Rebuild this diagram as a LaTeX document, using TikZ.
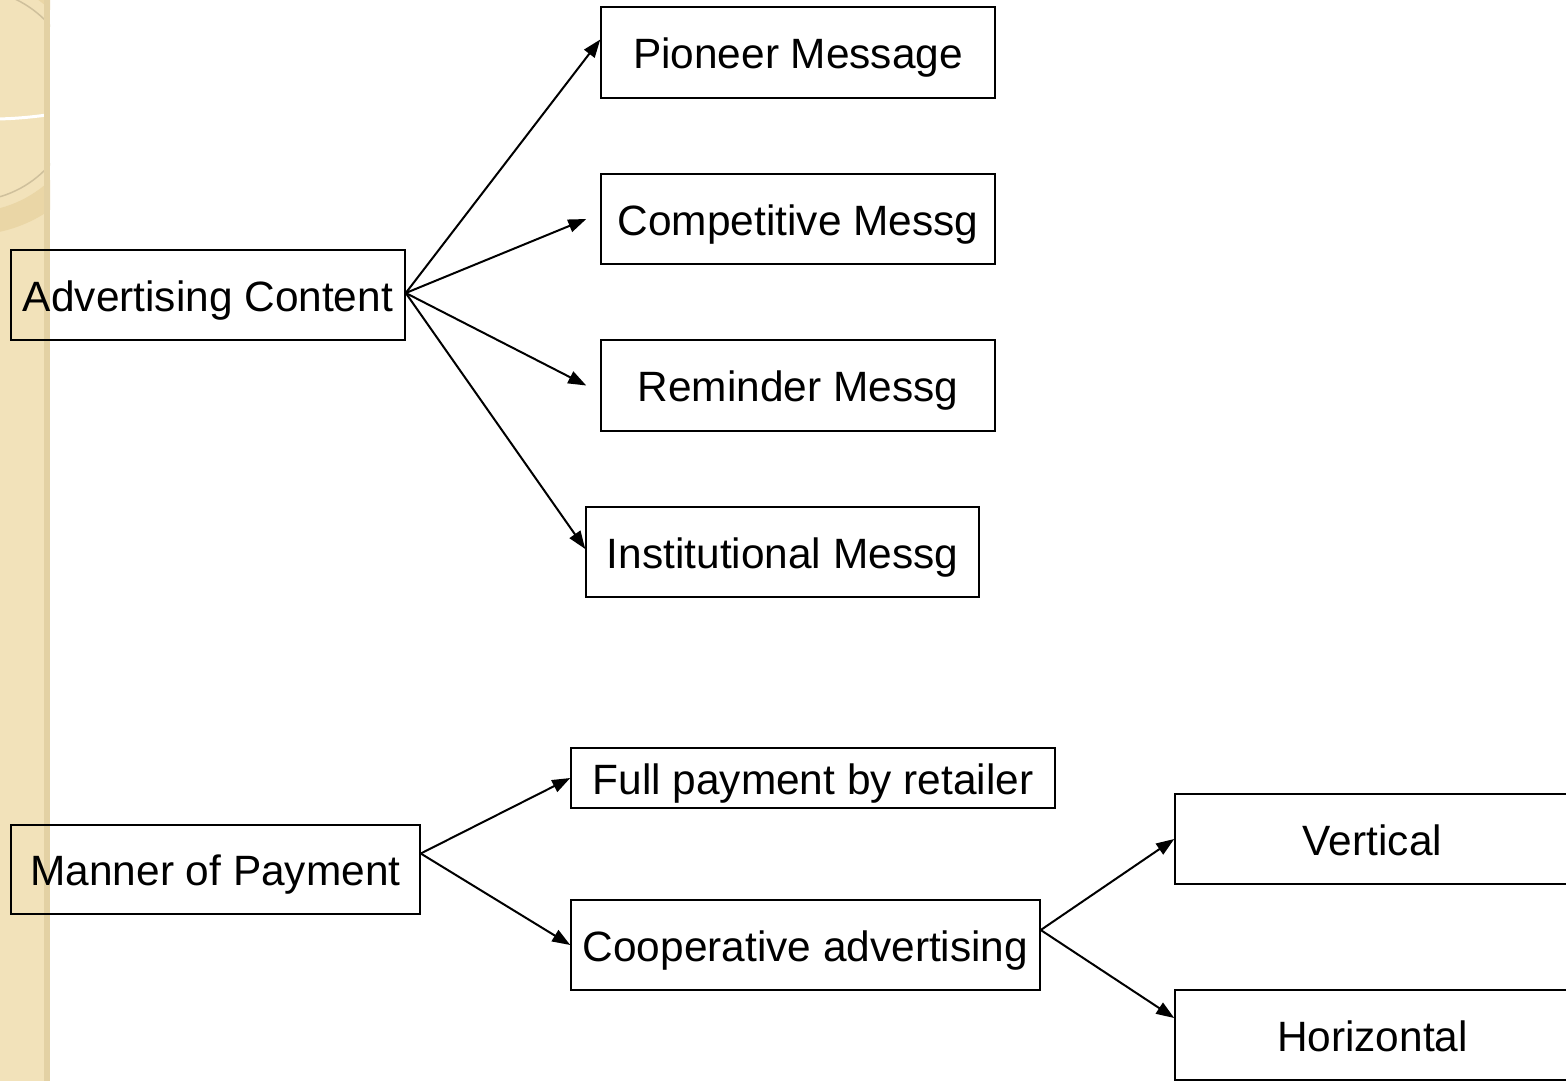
\documentclass[tikz,border=0pt]{standalone}
\usepackage{fontspec}
\setmainfont{Liberation Sans}
\usetikzlibrary{arrows.meta}
\definecolor{strip}{HTML}{F2E2BA}
\definecolor{stripdark}{HTML}{E3D1A4}
\definecolor{band}{HTML}{EAD6A6}
\definecolor{arcgrey}{HTML}{CFC09C}
\tikzset{
  box/.style={draw=black, line width=1.5pt, inner sep=0pt, align=center,
    text height=36pt, text depth=4pt,
    font=\fontsize{42.4}{50}\selectfont},
  conn/.style={draw=black, line width=2pt, -{Triangle[length=18pt,width=13pt]}}
}
\begin{document}
\begin{tikzpicture}[x=1pt,y=-1pt]
\useasboundingbox (0,0) rectangle (1566,1081);
\fill[white] (0,0) rectangle (1566,1081);
% left decorative strip
\fill[strip] (0,0) rectangle (50,1081);
\begin{scope}
\clip (0,0) rectangle (50,1081);
\fill[band, even odd rule] (-30,95) circle[radius=140] (-30,95) circle[radius=117];
\draw[arcgrey, line width=1.5pt] (-30,95) circle[radius=106];
\draw[white, line width=3pt] (-80,113) arc[start angle=100, end angle=80, radius=400];
\end{scope}
\fill[stripdark] (44,0) rectangle (50,1081);
% nodes
\node[box, minimum width=394pt, minimum height=90pt] (ac) at (208,295) {Advertising Content};
\node[box, minimum width=394pt, minimum height=91pt] (pm) at (798,52.5) {Pioneer Message};
\node[box, minimum width=394pt, minimum height=90pt] (cm) at (798,219) {Competitive Messg};
\node[box, minimum width=394pt, minimum height=91pt] (rm) at (798,385.5) {Reminder Messg};
\node[box, minimum width=393pt, minimum height=90pt] (im) at (782.5,552) {Institutional Messg};
\node[box, minimum width=409pt, minimum height=89pt] (mp) at (215.5,869.5) {Manner of Payment};
\node[box, minimum width=484pt, minimum height=60pt] (fp) at (813,778) {Full payment by retailer};
\node[box, minimum width=469pt, minimum height=90pt] (ca) at (805.5,945) {Cooperative advertising};
\node[box, minimum width=395pt, minimum height=90pt] (ve) at (1372.5,839) {Vertical};
\node[box, minimum width=395pt, minimum height=90pt] (ho) at (1372.5,1035) {Horizontal};
% connectors
\draw[conn] ([yshift=2pt]ac.east) -- ([yshift=13pt]pm.west);
\draw[conn] ([yshift=2pt]ac.east) -- ([xshift=-14pt]cm.west);
\draw[conn] ([yshift=2pt]ac.east) -- ([xshift=-14pt]rm.west);
\draw[conn] ([yshift=2pt]ac.east) -- ([yshift=3pt]im.west);
\draw[conn] ([yshift=16pt]mp.east) -- (fp.west);
\draw[conn] ([yshift=16pt]mp.east) -- (ca.west);
\draw[conn] ([yshift=15pt]ca.east) -- (ve.west);
\draw[conn] ([yshift=15pt]ca.east) -- ([yshift=17pt]ho.west);
\end{tikzpicture}
\end{document}
